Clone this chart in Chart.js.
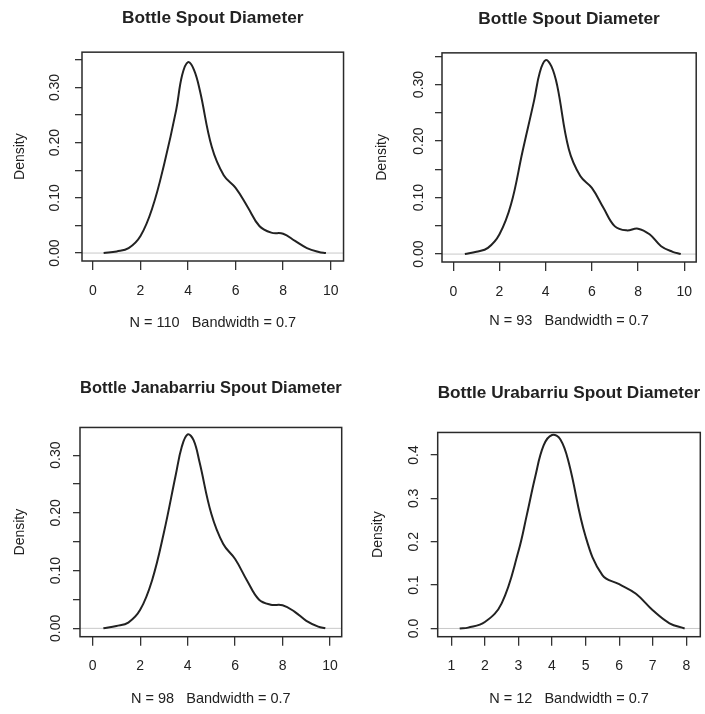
<!DOCTYPE html>
<html>
<head>
<meta charset="utf-8">
<script src="https://cdn.jsdelivr.net/npm/chart.js@4.4.1/dist/chart.umd.min.js"></script>
<style>
  body { margin: 0; background: #fff; }
  #wrap { position: relative; width: 705px; height: 714px; }
  canvas { position: absolute; }
</style>
</head>
<body>
<div id="wrap">
  <canvas id="c1" width="352" height="357" style="left:0;top:0"></canvas>
  <canvas id="c2" width="353" height="357" style="left:352px;top:0"></canvas>
  <canvas id="c3" width="352" height="357" style="left:0;top:357px"></canvas>
  <canvas id="c4" width="353" height="357" style="left:352px;top:357px"></canvas>
</div>
<script>
// values
const titles = ['Bottle Spout Diameter', 'Bottle Spout Diameter', 'Bottle Janabarriu Spout Diameter', 'Bottle Urabarriu Spout Diameter'];
const subtitles = ['N = 110   Bandwidth = 0.7', 'N = 93   Bandwidth = 0.7', 'N = 98   Bandwidth = 0.7', 'N = 12   Bandwidth = 0.7'];

const spoutX       = [0.45, 1.0, 1.5, 2.0, 2.5, 3.0, 3.5, 3.75, 4.0, 4.25, 4.5, 5.0, 5.5, 6.0, 6.5, 7.0, 7.5, 8.0, 8.5, 9.0, 9.5, 9.8];
const spoutDensity = [0.000, 0.003, 0.009, 0.031, 0.082, 0.162, 0.259, 0.322, 0.346, 0.332, 0.294, 0.192, 0.141, 0.118, 0.084, 0.049, 0.037, 0.035, 0.022, 0.009, 0.002, 0.000];

const spout2X       = [0.5, 1.0, 1.5, 2.0, 2.5, 3.0, 3.5, 3.75, 4.0, 4.25, 4.5, 5.0, 5.5, 6.0, 6.5, 7.0, 7.5, 8.0, 8.5, 9.0, 9.5, 9.85];
const spout2Density = [0.000, 0.004, 0.011, 0.035, 0.088, 0.182, 0.272, 0.322, 0.343, 0.332, 0.298, 0.186, 0.138, 0.117, 0.082, 0.049, 0.042, 0.045, 0.035, 0.014, 0.004, 0.000];

const janabarriuX       = [0.45, 1.0, 1.5, 2.0, 2.5, 3.0, 3.5, 3.75, 4.0, 4.25, 4.5, 5.0, 5.5, 6.0, 6.5, 7.0, 7.5, 8.0, 8.5, 9.0, 9.5, 9.8];
const janabarriuDensity = [0.000, 0.004, 0.010, 0.032, 0.083, 0.166, 0.266, 0.314, 0.336, 0.326, 0.288, 0.198, 0.146, 0.120, 0.083, 0.050, 0.041, 0.040, 0.029, 0.013, 0.003, 0.000];

const urabarriuX       = [1.25, 1.5, 2.0, 2.5, 3.0, 3.25, 3.5, 3.75, 4.0, 4.25, 4.5, 5.0, 5.5, 6.0, 6.5, 7.0, 7.5, 7.95];
const urabarriuDensity = [0.000, 0.002, 0.015, 0.058, 0.178, 0.262, 0.350, 0.422, 0.446, 0.436, 0.382, 0.212, 0.123, 0.102, 0.080, 0.042, 0.012, 0.000];

const xTicks10 = [0, 2, 4, 6, 8, 10];
const xTicks8  = [1, 2, 3, 4, 5, 6, 7, 8];
const yTicksA  = [0, 0.05, 0.10, 0.15, 0.20, 0.25, 0.30, 0.35];
const yLabelsA = ['0.00', '', '0.10', '', '0.20', '', '0.30', ''];
const yTicksB  = [0, 0.1, 0.2, 0.3, 0.4];
const yLabelsB = ['0.0', '0.1', '0.2', '0.3', '0.4'];

const FONT = "'Liberation Sans', Arial, Helvetica, sans-serif";
const INK = '#222';

// frame + grey zero line like plot.density
const framePlugin = {
  id: 'frame',
  beforeDatasetsDraw(chart) {
    let ctx = chart.ctx, a = chart.chartArea;
    let y0 = chart.scales.y.getPixelForValue(0);
    ctx.save();
    ctx.strokeStyle = '#c8c8c8';
    ctx.lineWidth = 1;
    ctx.beginPath();
    ctx.moveTo(a.left, y0);
    ctx.lineTo(a.right, y0);
    ctx.stroke();
    ctx.restore();
  },
  afterDraw(chart) {
    let ctx = chart.ctx, a = chart.chartArea;
    ctx.save();
    ctx.strokeStyle = '#2a2a2a';
    ctx.lineWidth = 1.5;
    ctx.strokeRect(a.left, a.top, a.right - a.left, a.bottom - a.top);
    ctx.restore();
  }
};

function makeChart(id, p) {
  let points = p.xs.map((x, i) => ({ x: x, y: p.ys[i] }));
  return new Chart(document.getElementById(id), {
    type: 'line',
    data: {
      datasets: [{
        data: points,
        borderColor: INK,
        borderWidth: 2,
        pointRadius: 0,
        tension: 0.4,
        fill: false
      }]
    },
    options: {
      responsive: false,
      animation: false,
      devicePixelRatio: 1,
      layout: { padding: { left: 0, top: 0, right: p.padRight, bottom: 0 } },
      plugins: {
        legend: { display: false },
        tooltip: { enabled: false },
        title: {
          display: true,
          text: p.title,
          fullSize: false,
          color: INK,
          font: { family: FONT, size: 17.3, weight: 'bold' },
          padding: { top: p.titleTop, bottom: p.titleBottom }
        }
      },
      scales: {
        x: {
          type: 'linear',
          min: p.xMin, max: p.xMax,
          afterFit(s) { s.height = p.xHeight; },
          afterBuildTicks(s) { s.ticks = p.xTicks.map(v => ({ value: v })); },
          grid: { drawOnChartArea: false, drawTicks: true, tickLength: 9, color: '#333', lineWidth: 1.3 },
          border: { display: false },
          ticks: { autoSkip: false, maxRotation: 0, padding: p.xTickPad, color: INK, font: { family: FONT, size: 14 } },
          title: { display: true, text: p.sub, color: INK, font: { family: FONT, size: 14.5 }, padding: { top: 0, bottom: p.subPad } }
        },
        y: {
          type: 'linear',
          min: p.yMin, max: p.yMax,
          afterFit(s) { s.width = p.yWidth; },
          afterBuildTicks(s) { s.ticks = p.yTicks.filter(v => v <= s.max).map(v => ({ value: v })); },
          grid: { drawOnChartArea: false, drawTicks: true, tickLength: 7, color: '#333', lineWidth: 1.3 },
          border: { display: false },
          ticks: {
            autoSkip: false, minRotation: 90, maxRotation: 90, crossAlign: 'center',
            padding: p.yTickPad, color: INK, font: { family: FONT, size: 14 },
            callback: (v) => p.yLabels[p.yTicks.indexOf(v)]
          },
          title: { display: true, text: 'Density', color: INK, font: { family: FONT, size: 14 }, padding: { top: p.densPad, bottom: 0 } }
        }
      }
    },
    plugins: [framePlugin]
  });
}

makeChart('c1', {
  xs: spoutX, ys: spoutDensity, title: titles[0], sub: subtitles[0],
  xMin: -0.46, xMax: 10.54, yMin: -0.0144, yMax: 0.364,
  xTicks: xTicks10, yTicks: yTicksA, yLabels: yLabelsA,
  padRight: 7, yWidth: 82, xHeight: 96,
  titleTop: 8.2, titleBottom: 23.2, densPad: 11.6, yTickPad: 6.4, xTickPad: 13.1, subPad: 25.4
});
makeChart('c2', {
  xs: spout2X, ys: spout2Density, title: titles[1], sub: subtitles[1],
  xMin: -0.49, xMax: 10.52, yMin: -0.014, yMax: 0.356,
  xTicks: xTicks10, yTicks: yTicksA, yLabels: yLabelsA,
  padRight: 1, yWidth: 90, xHeight: 95,
  titleTop: 8.7, titleBottom: 23.4, densPad: 21.6, yTickPad: 2.7, xTickPad: 12.6, subPad: 27.4
});
makeChart('c3', {
  xs: janabarriuX, ys: janabarriuDensity, title: titles[2], sub: subtitles[2],
  xMin: -0.535, xMax: 10.49, yMin: -0.0145, yMax: 0.348,
  xTicks: xTicks10, yTicks: yTicksA, yLabels: yLabelsA,
  padRight: 10.3, yWidth: 80, xHeight: 77.3,
  titleTop: 21.0, titleBottom: 28.7, densPad: 11.6, yTickPad: 3.6, xTickPad: 11.7, subPad: 6.4
});
makeChart('c4', {
  xs: urabarriuX, ys: urabarriuDensity, title: titles[3], sub: subtitles[3],
  xMin: 0.595, xMax: 8.417, yMin: -0.019, yMax: 0.452,
  xTicks: xTicks8, yTicks: yTicksB, yLabels: yLabelsB,
  padRight: 4.7, yWidth: 85.7, xHeight: 77.3,
  titleTop: 26.0, titleBottom: 28.7, densPad: 17.4, yTickPad: 6.5, xTickPad: 11.7, subPad: 6.4
});
</script>
</body>
</html>
